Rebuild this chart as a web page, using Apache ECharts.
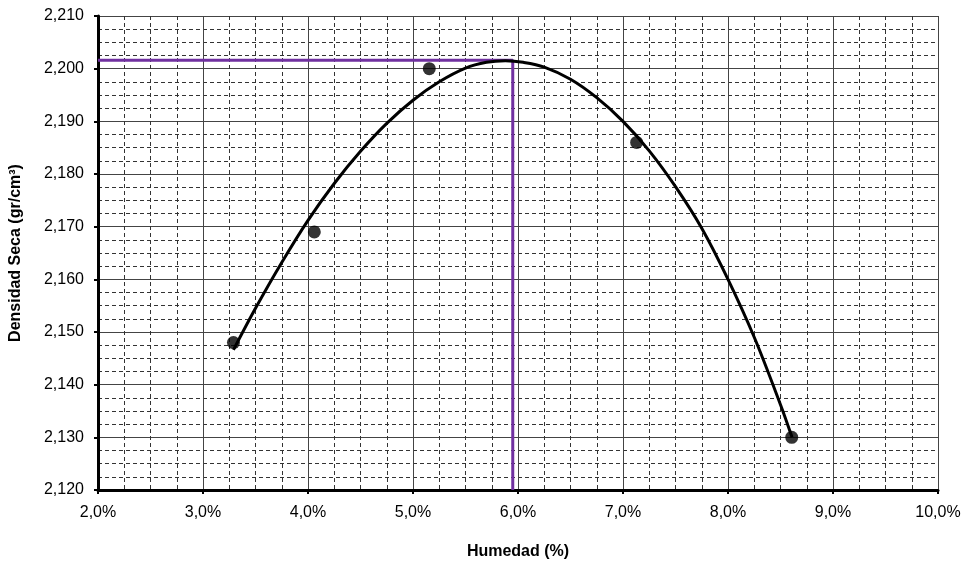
<!DOCTYPE html>
<html>
<head>
<meta charset="utf-8">
<script src="https://cdn.jsdelivr.net/npm/echarts@6/dist/echarts.min.js"></script>
<style>html,body{margin:0;padding:0;background:#fff}#c{width:968px;height:565px}</style>
</head>
<body>
<div id="c"></div>
<script>
// Measured points: humidity (%) and dry density (gr/cm3)
const pointX = [3.29, 4.06, 5.155, 7.13, 8.607];
const pointY = [2.148, 2.169, 2.200, 2.186, 2.130];
// Trend curve
const curveX = [3.29, 3.50, 3.75, 4.00, 4.25, 4.50, 4.75, 5.00, 5.25, 5.50, 5.70, 5.88, 6.05, 6.25, 6.50, 6.75, 7.00, 7.25, 7.50, 7.75, 8.00, 8.25, 8.50, 8.61];
const curveY = [2.1466, 2.1545, 2.1632, 2.1712, 2.1782, 2.1843, 2.1896, 2.1940, 2.1975, 2.2001, 2.2012, 2.2015, 2.2012, 2.2003, 2.1980, 2.1945, 2.1900, 2.1844, 2.1776, 2.1697, 2.1600, 2.1490, 2.1362, 2.1300];
// Optimum guide lines (purple)
const guideX = [2.0, 5.95, 5.95];
const guideY = [2.2016, 2.2016, 2.120];

const xName = 'Humedad (%)';
const yName = 'Densidad Seca (gr/cm³)';

const zip = (a, b) => a.map((v, i) => [v, b[i]]);
const FONT = 'Liberation Sans, Arial, sans-serif';

const chart = echarts.init(document.getElementById('c'), null, {renderer: 'canvas'});
chart.setOption({
  animation: false,
  backgroundColor: '#ffffff',
  grid: {left: 98, right: 30, top: 16, bottom: 70},
  xAxis: {
    type: 'value', min: 2, max: 10, interval: 1,
    name: xName, nameLocation: 'middle', nameGap: 54,
    nameTextStyle: {fontFamily: FONT, fontSize: 16, fontWeight: 'bold', color: '#000'},
    axisLine: {show: true, onZero: false, lineStyle: {color: '#000', width: 3}},
    axisTick: {show: true, length: 4, lineStyle: {color: '#000', width: 2}},
    axisLabel: {fontFamily: FONT, fontSize: 16, color: '#000', margin: 15,
      formatter: v => v.toFixed(1).replace('.', ',') + '%'},
    splitLine: {show: true, lineStyle: {color: '#444', width: 1}},
    minorTick: {show: false, splitNumber: 4},
    minorSplitLine: {show: true, lineStyle: {color: '#333', width: 1, type: [4, 3]}}
  },
  yAxis: {
    type: 'value', min: 2.12, max: 2.21, interval: 0.01,
    name: yName, nameLocation: 'middle', nameGap: 74,
    nameTextStyle: {fontFamily: FONT, fontSize: 16, fontWeight: 'bold', color: '#000'},
    axisLine: {show: true, onZero: false, lineStyle: {color: '#000', width: 3}},
    axisTick: {show: true, length: 4, lineStyle: {color: '#000', width: 2}},
    axisLabel: {fontFamily: FONT, fontSize: 16, color: '#000', margin: 14,
      formatter: v => v.toFixed(3).replace('.', ',')},
    splitLine: {show: true, lineStyle: {color: '#444', width: 1}},
    minorTick: {show: false, splitNumber: 4},
    minorSplitLine: {show: true, lineStyle: {color: '#333', width: 1, type: [4, 3]}}
  },
  series: [
    {
      type: 'line', data: zip(guideX, guideY), symbol: 'none',
      lineStyle: {color: '#7030A0', width: 3}, z: 3
    },
    {
      type: 'line', data: zip(curveX, curveY), symbol: 'none', smooth: 0.35,
      lineStyle: {color: '#000', width: 3}, z: 4
    },
    {
      type: 'scatter', data: zip(pointX, pointY), symbol: 'circle', symbolSize: 13,
      itemStyle: {color: '#000'}, z: 5
    }
  ]
});
</script>
</body>
</html>
